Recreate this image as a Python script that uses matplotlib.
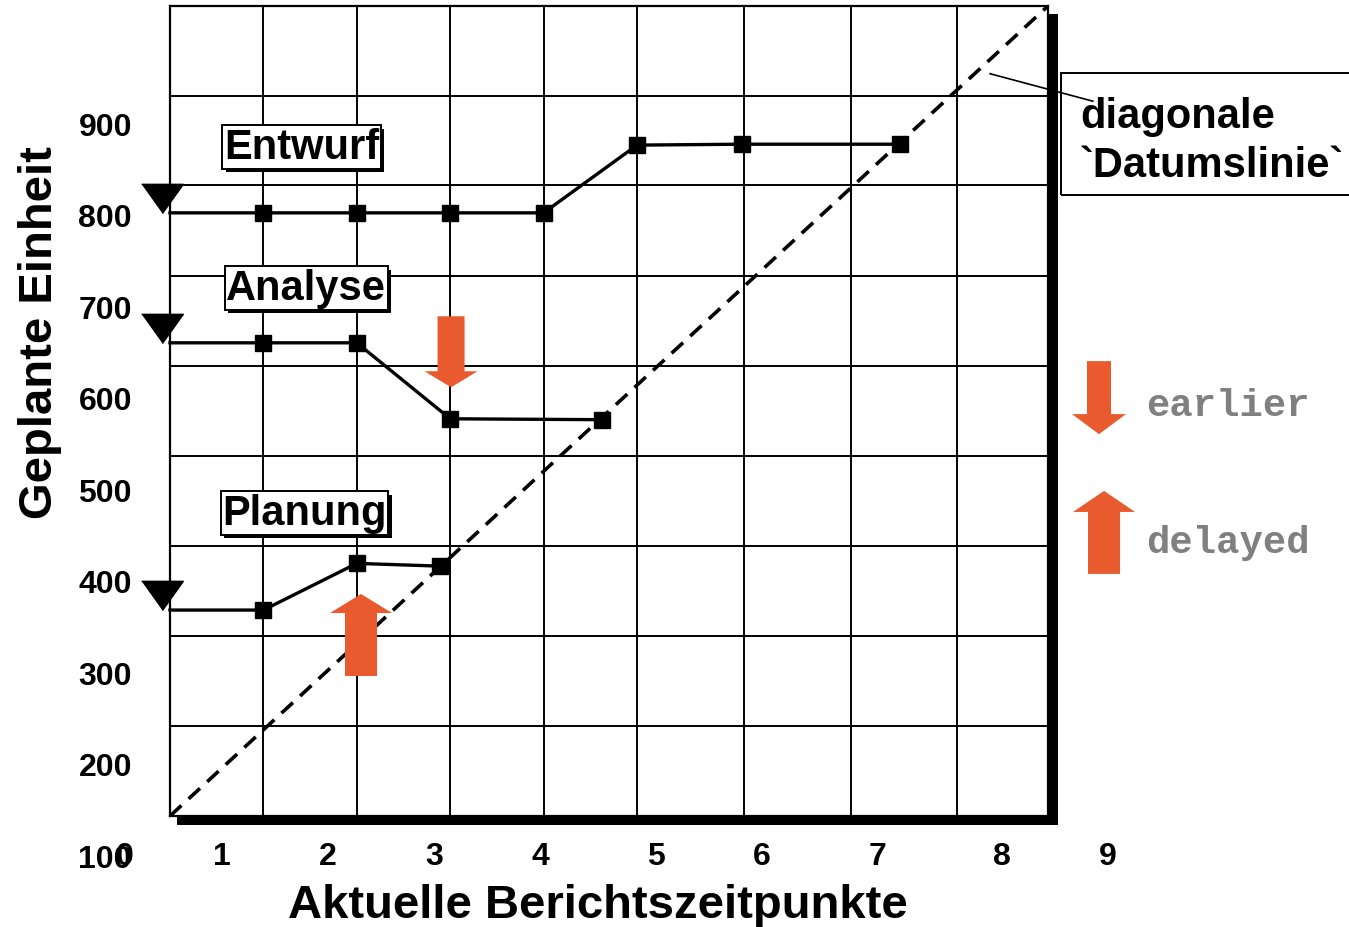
import matplotlib
matplotlib.use("Agg")
import matplotlib.pyplot as plt
from matplotlib.patches import Rectangle, FancyArrow
import matplotlib.patheffects as pe

plt.rcParams['font.family'] = ['Liberation Sans', 'DejaVu Sans']
plt.rcParams['font.weight'] = 'bold'

# milestone trend data (x in report-grid units, y in planned units)
entwurf_x = [0, 1, 2, 3, 4, 5, 6.12, 7.82]
entwurf_y = [806, 806, 806, 806, 806, 880, 881, 881]
analyse_x = [0, 1, 2, 3, 4.63]
analyse_y = [664, 664, 664, 581, 580]
planung_x = [0, 1, 2, 2.89]
planung_y = [372, 372, 423, 420]
series_names = ["Entwurf", "Analyse", "Planung"]

# grid of the drawing
vgrid = [1, 2, 3, 4, 5, 6.14, 7.29, 8.43]
hgrid = [245, 344, 442, 540, 639, 737, 836, 934]
x_range = [0, 9.4]
y_range = [147, 1032]

# tick labels (as placed on the original slide)
xtick_pos = [-0.48, 0.56, 1.69, 2.83, 3.96, 5.20, 6.34, 7.57, 8.91, 10.04]
xtick_lab = ["0", "1", "2", "3", "4", "5", "6", "7", "8", "9"]
ytick_pos = [100, 200, 300, 400, 500, 600, 700, 800, 900]
ytick_lab = ["100", "200", "300", "400", "500", "600", "700", "800", "900"]

orange = '#E95A2F'

fig = plt.figure(figsize=(13.49, 9.28), dpi=100)
ax = fig.add_axes([170/1349, 1-817/928, 878/1349, 810/928])

# black drop shadow behind the chart frame
fig.add_artist(Rectangle((177/1349, 1-826/928), 881/1349, 811/928,
                         transform=fig.transFigure, facecolor='black',
                         edgecolor='none', zorder=-1))

ax.set_xlim(x_range)
ax.set_ylim(y_range)
ax.set_xticks(vgrid)
ax.set_yticks(hgrid)
ax.set_xticklabels([])
ax.set_yticklabels([])
ax.tick_params(length=0)
ax.grid(True, color='black', lw=1.4)
ax.set_axisbelow(True)
for s in ax.spines.values():
    s.set_linewidth(1.6)
    s.set_color('black')

# diagonal date line
ax.plot(x_range, y_range, color='black', lw=2.6, dashes=(4.3, 2.7), zorder=2)

# series
for xs, ys in [(entwurf_x, entwurf_y), (analyse_x, analyse_y), (planung_x, planung_y)]:
    ax.plot(xs, ys, color='black', lw=2.4, marker='s', markersize=12,
            markevery=slice(1, None), zorder=4, clip_on=False)
    ax.plot([-0.09], [ys[0]], linestyle='none', color='black',
            marker=[(-1, 1.4), (1, 1.4), (0, 0)], markersize=42, zorder=5,
            clip_on=False)

# series labels with shadowed box
label_pos = [(1.41, 878), (1.46, 724), (1.44, 478)]
for name, (lx, ly) in zip(series_names, label_pos):
    t = ax.text(lx, ly, name, fontsize=30, ha='center', va='center', zorder=6,
                bbox=dict(boxstyle='square,pad=0.04', facecolor='white',
                          edgecolor='black', lw=1.4))
    t.get_bbox_patch().set_path_effects([
        pe.SimplePatchShadow(offset=(2.5, -2.5), shadow_rgbFace='black', alpha=1),
        pe.Normal()])

# orange arrows
arrows = [
    (3.009, 693, -77.6, 0.289, 0.567, 17.5),
    (2.045, 300, 89.6, 0.343, 0.664, 20.8),
    (9.946, 644, -79.8, 0.257, 0.578, 21.9),
    (10.0, 411.5, 90.7, 0.343, 0.664, 23.0),
]
for x0, y0, dy, w, hw, hl in arrows:
    ax.add_patch(FancyArrow(x0, y0, 0, dy, width=w, head_width=hw,
                            head_length=hl, length_includes_head=True,
                            facecolor=orange, edgecolor='none', zorder=7,
                            clip_on=False))

ax.text(10.45, 596, "earlier", fontsize=28, family='Liberation Mono',
        color='#808080', ha='left', va='center')
ax.text(10.45, 446, "delayed", fontsize=28, family='Liberation Mono',
        color='#808080', ha='left', va='center')

# tick labels
for p, l in zip(xtick_pos, xtick_lab):
    ax.text(p, 103, l, fontsize=23, ha='center', va='center', clip_on=False)
for p, l in zip(ytick_pos, ytick_lab):
    ax.text(-0.407, p, l, fontsize=23, ha='right', va='center', clip_on=False)

fig.text(40/1349, 1-333/928, "Geplante Einheit", fontsize=34, rotation=90,
         ha='center', va='center')
fig.text(598/1349, 1-906/928, "Aktuelle Berichtszeitpunkte", fontsize=34,
         ha='center', va='center')

# callout for the date line
fig.add_artist(Rectangle((1061/1349, 1-196/928), 300/1349, 122/928,
                         transform=fig.transFigure, facecolor='none',
                         edgecolor='black', lw=1.4, clip_on=False))
fig.text(1080/1349, 1-128/928, "diagonale", fontsize=30, ha='left', va='baseline')
fig.text(1080/1349, 1-177/928, "`Datumslinie`", fontsize=30, ha='left', va='baseline')
ax.plot([8.78, 9.88], [958, 928], color='black', lw=1.2, clip_on=False, zorder=8)

fig.savefig("out.png", dpi=100)
